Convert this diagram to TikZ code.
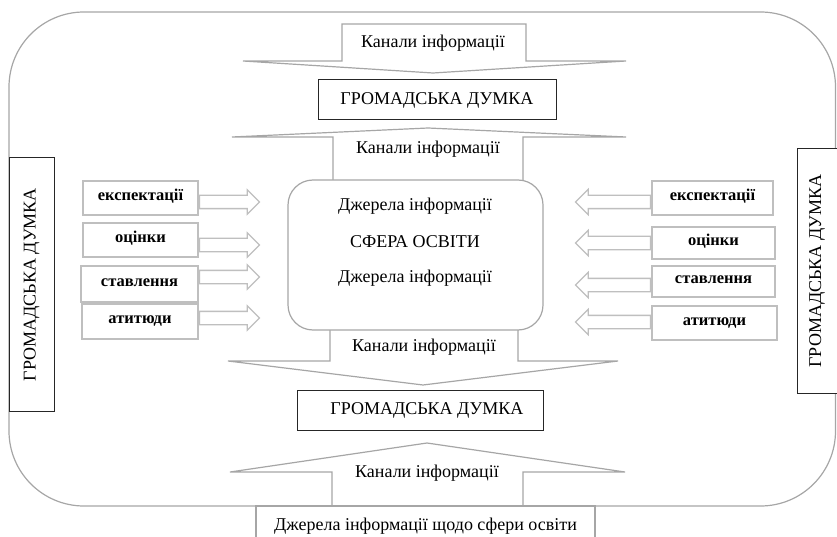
\documentclass[tikz,border=0pt]{standalone}
\usepackage{fontspec}
\setmainfont{Liberation Serif}
\usetikzlibrary{shapes.arrows}
\definecolor{linegray}{RGB}{166,166,166}
\definecolor{boxgray}{RGB}{191,191,191}
\definecolor{darkline}{RGB}{38,38,38}

\begin{document}
\begin{tikzpicture}[x=1pt, y=-1pt]
    \tikzset{
        gline/.style={draw=linegray, line width=1.2pt, line join=miter},
        opinion/.style={draw=darkline, line width=1pt, fill=white, inner sep=0pt, font=\fontsize{18}{21}\selectfont},
        factor/.style={draw=boxgray, line width=1.6pt, fill=white, inner sep=0pt, text height=1ex, text depth=0pt,
            font=\bfseries\fontsize{16.5}{19}\selectfont},
        chantext/.style={font=\fontsize{18}{21}\selectfont},
        toright/.style={single arrow, draw=boxgray, line width=1.3pt, fill=white, inner xsep=0pt, inner ysep=6pt,
            minimum width=23pt, minimum height=60pt, single arrow head extend=5.5pt, anchor=tail},
        toleft/.style={toright, shape border rotate=180, minimum height=75pt, minimum width=24pt, single arrow head extend=6pt}
    }
    \useasboundingbox (0,0) rectangle (837,537);

    \draw[gline, rounded corners=75pt] (9,12) rectangle (835.5,506);

    \draw[gline, fill=white] (342,24) -- (526,24) -- (526,61) -- (626,61) -- (433,73) -- (243,61) -- (342,61) -- cycle;
    \draw[gline, fill=white] (333,182) -- (333,137) -- (232,137) -- (428,128) -- (626,137) -- (523,137) -- (523,182);
    \draw[gline, fill=white] (330,328) -- (330,361) -- (228,361) -- (423,385) -- (618,361) -- (518,361) -- (518,328);
    \draw[gline, fill=white] (332,506) -- (332,472) -- (230,472) -- (427,443) -- (625,472) -- (523,472) -- (523,506);

    \node[chantext] (kan1) at (433,43) {Канали інформації};
    \node[chantext] (kan2) at (428,149) {Канали інформації};
    \node[chantext] (kan3) at (424,347) {Канали інформації};
    \node[chantext] (kan4) at (427,473) {Канали інформації};

    \node[opinion, minimum width=238pt, minimum height=40pt] (optop) at (437,100) {ГРОМАДСЬКА ДУМКА};
    \node[opinion, minimum width=246pt, minimum height=40pt] (opbot) at (420,410) {\hspace{14pt}ГРОМАДСЬКА ДУМКА};
    \node[opinion, rotate=90, minimum width=253pt, minimum height=45pt] (opleft) at (31.5,284.5) {ГРОМАДСЬКА ДУМКА};
    \node[opinion, rotate=90, minimum width=244pt, minimum height=40pt] (opright) at (817,271) {ГРОМАДСЬКА ДУМКА};

    \node[draw=linegray, line width=1.2pt, fill=white, rounded corners=25pt,
          minimum width=255pt, minimum height=150pt] (sfera) at (415.5,255) {};
    \node[chantext] (dzh1) at (415,206) {Джерела інформації};
    \node[chantext] (sfname) at (415,242) {СФЕРА ОСВІТИ};
    \node[chantext] (dzh2) at (415,278) {Джерела інформації};

    \node[draw=linegray, line width=1.2pt, fill=white, minimum width=339pt, minimum height=40pt,
          font=\fontsize{18}{21}\selectfont] (dzherela) at (425.5,526) {Джерела інформації щодо сфери освіти};

    \node[factor, minimum width=115pt, minimum height=34pt] (le1) at (140.5,198) {експектації};
    \node[factor, minimum width=115pt, minimum height=34pt] (le2) at (140.5,240) {оцінки};
    \node[factor, minimum width=117pt, minimum height=36pt] (le3) at (139.5,284) {ставлення};
    \node[factor, minimum width=116pt, minimum height=35pt] (le4) at (140,321.5) {атитюди};

    \node[factor, minimum width=121pt, minimum height=34pt] (re1) at (712.5,198) {експектації};
    \node[factor, minimum width=123pt, minimum height=32pt] (re2) at (713.5,243) {оцінки};
    \node[factor, minimum width=123pt, minimum height=31pt] (re3) at (713.5,281.5) {ставлення};
    \node[factor, minimum width=125pt, minimum height=34pt] (re4) at (714.5,323) {атитюди};

    \node[toright] (la1) at (le1.east |- 0,202) {};
    \node[toright] (la2) at (le2.east |- 0,245) {};
    \node[toright] (la3) at (le3.east |- 0,277) {};
    \node[toright] (la4) at (le4.east |- 0,318) {};

    \node[toleft] (ra1) at (re1.west |- 0,202) {};
    \node[toleft] (ra2) at (re2.west |- 0,243) {};
    \node[toleft] (ra3) at (re3.west |- 0,285) {};
    \node[toleft] (ra4) at (re4.west |- 0,322) {};
\end{tikzpicture}
\end{document}
